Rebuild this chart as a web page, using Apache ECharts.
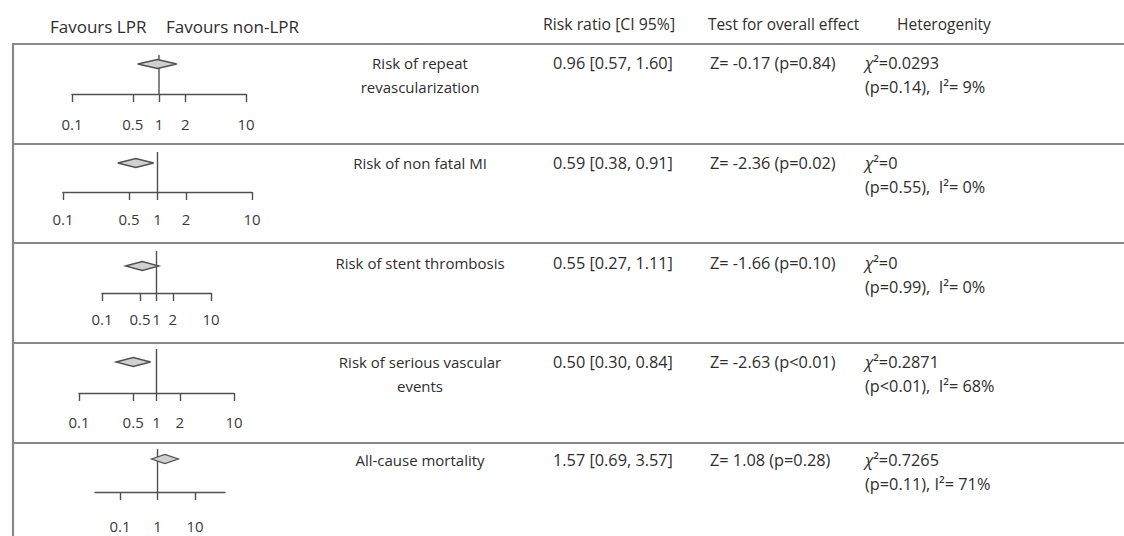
<!DOCTYPE html>
<html>
<head>
<meta charset="utf-8">
<script src="https://cdn.jsdelivr.net/npm/echarts@6/dist/echarts.min.js"></script>
<style>
  html, body { margin: 0; padding: 0; background: #fff; }
  #chart { width: 1124px; height: 536px; }
</style>
</head>
<body>
<div id="chart"></div>
<script>
// Pooled estimates per outcome
const outcomes = [
  ['Risk of repeat', 'revascularization'],
  ['Risk of non fatal MI'],
  ['Risk of stent thrombosis'],
  ['Risk of serious vascular', 'events'],
  ['All-cause mortality']
];
const riskRatio = [0.96, 0.59, 0.55, 0.50, 1.57];
const ciLower   = [0.57, 0.38, 0.27, 0.30, 0.69];
const ciUpper   = [1.60, 0.91, 1.11, 0.84, 3.57];
const zScores   = [-0.17, -2.36, -1.66, -2.63, 1.08];
const zPValues  = ['p=0.84', 'p=0.02', 'p=0.10', 'p<0.01', 'p=0.28'];
const chiSquare = ['0.0293', '0', '0', '0.2871', '0.7265'];
const hetDetail = ['(p=0.14),  I²= 9%', '(p=0.55),  I²= 0%', '(p=0.99),  I²= 0%', '(p<0.01),  I²= 68%', '(p=0.11), I²= 71%'];
const tickValues = [
  [0.1, 0.5, 1, 2, 10],
  [0.1, 0.5, 1, 2, 10],
  [0.1, 0.5, 1, 2, 10],
  [0.1, 0.5, 1, 2, 10],
  [0.1, 1, 10]
];
const headers = ['Risk ratio [CI 95%]', 'Test for overall effect', 'Heterogenity'];
const favourLabels = ['Favours LPR', 'Favours non-LPR'];

// Panel geometry for each small forest plot
const rowLayout = [
  { left: 72,  width: 174, top: 55,  axisY: 94,  diamondY: 64,  min: 0.1,    max: 10, margin: 22, textY: 63 },
  { left: 63,  width: 189, top: 152, axisY: 192, diamondY: 163, min: 0.1,    max: 10, margin: 19, textY: 163 },
  { left: 102, width: 109, top: 251, axisY: 293, diamondY: 266, min: 0.1,    max: 10, margin: 18, textY: 263 },
  { left: 79,  width: 155, top: 349, axisY: 393, diamondY: 362, min: 0.1,    max: 10, margin: 21, textY: 362 },
  { left: 95,  width: 130, top: 449, axisY: 492, diamondY: 459, min: 0.0215, max: 63, margin: 26, textY: 460 }
];
const separatorsY = [44, 144, 243, 343, 443];

const FONT = '"Open Sans"';
const TEXT = '#2e2e2e';
const RULE = '#888';

const grids = [], xAxes = [], yAxes = [], series = [];
rowLayout.forEach((r, i) => {
  grids.push({ left: r.left, top: r.top, width: r.width, height: r.axisY - r.top });
  xAxes.push({
    gridIndex: i, type: 'log', logBase: 10, min: r.min, max: r.max,
    axisLine: { show: true, lineStyle: { color: '#505050', width: 1.4 } },
    axisTick: { show: true, inside: false, length: 8, customValues: tickValues[i], lineStyle: { color: '#505050', width: 1.4 } },
    axisLabel: {
      show: true, customValues: tickValues[i], margin: r.margin,
      color: '#3a3a3a', fontFamily: FONT, fontSize: 15,
      formatter: v => String(+Number(v).toPrecision(3))
    },
    splitLine: { show: false }, minorTick: { show: false }, minorSplitLine: { show: false }
  });
  yAxes.push({ gridIndex: i, type: 'value', min: 0, max: 1, show: false });

  // reference line at risk ratio = 1
  series.push({
    type: 'line', xAxisIndex: i, yAxisIndex: i, silent: true, symbol: 'none',
    lineStyle: { color: '#505050', width: 1.4 },
    data: [[1, 0], [1, 1]], z: 2
  });

  // pooled-estimate diamond
  const level = (r.axisY - r.diamondY) / (r.axisY - r.top);
  series.push({
    type: 'custom', xAxisIndex: i, yAxisIndex: i, silent: true, z: 3,
    encode: { x: [0, 1, 2] },
    data: [[riskRatio[i], ciLower[i], ciUpper[i]]],
    renderItem: (params, api) => {
      const c = api.coord([api.value(0), level]);
      const lo = api.coord([api.value(1), level]);
      const hi = api.coord([api.value(2), level]);
      const h = 4.5;
      return {
        type: 'polygon',
        shape: { points: [[lo[0], c[1]], [c[0], c[1] - h], [hi[0], c[1]], [c[0], c[1] + h]] },
        style: { fill: '#d0d0d0', stroke: '#505050', lineWidth: 1.3 }
      };
    }
  });
});

const graphics = [];
function txt(x, y, text, size, align, extra) {
  graphics.push({
    type: 'text', x, y, silent: true,
    style: Object.assign({
      text, fill: TEXT, fontFamily: FONT, fontSize: size,
      textAlign: align || 'left', textVerticalAlign: 'middle'
    }, extra || {})
  });
}

// frame rules
graphics.push({ type: 'line', silent: true, shape: { x1: 13, y1: separatorsY[0], x2: 13, y2: 536 }, style: { stroke: RULE, lineWidth: 2.2 } });
separatorsY.forEach(y => {
  graphics.push({ type: 'line', silent: true, shape: { x1: 12, y1: y, x2: 1124, y2: y }, style: { stroke: RULE, lineWidth: 2.2 } });
});

// column headers
txt(50, 26, favourLabels[0], 17);
txt(166, 26, favourLabels[1], 17);
txt(543, 24, headers[0], 15.8);
txt(708, 24, headers[1], 15.4);
txt(897, 24, headers[2], 15.5);

// table body
const VAL = 16.3;
rowLayout.forEach((r, i) => {
  outcomes[i].forEach((line, k) => txt(420, r.textY + k * 24, line, 15, 'center'));
  txt(553, r.textY, riskRatio[i].toFixed(2) + ' [' + ciLower[i].toFixed(2) + ', ' + ciUpper[i].toFixed(2) + ']', VAL);
  txt(710, r.textY, 'Z= ' + zScores[i].toFixed(2) + ' (' + zPValues[i] + ')', VAL);
  txt(865, r.textY, '{chi|χ}²=' + chiSquare[i], VAL, 'left', {
    rich: { chi: { fontStyle: 'italic', fontFamily: FONT, fontSize: VAL, fill: TEXT } }
  });
  txt(865, r.textY + 24, hetDetail[i], VAL);
});

const chart = echarts.init(document.getElementById('chart'), null, { renderer: 'svg' });
chart.setOption({
  animation: false,
  backgroundColor: '#fff',
  grid: grids,
  xAxis: xAxes,
  yAxis: yAxes,
  series,
  graphic: { elements: graphics }
});
</script>
</body>
</html>
